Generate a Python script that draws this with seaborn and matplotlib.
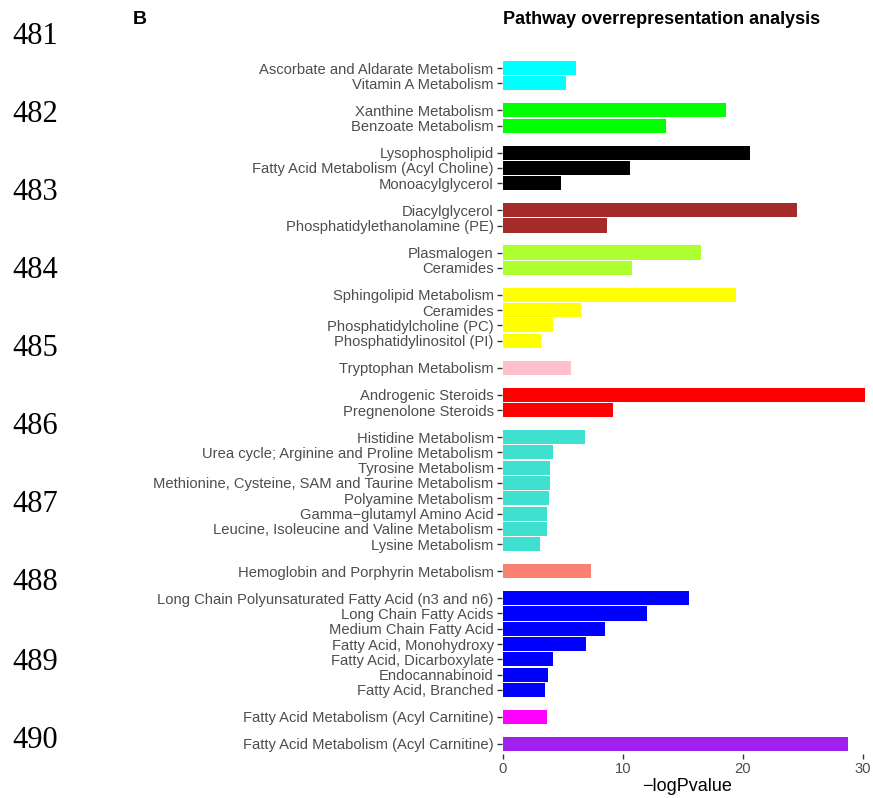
import matplotlib
matplotlib.use("Agg")
import matplotlib.pyplot as plt
import seaborn as sns
import pandas as pd
import numpy as np

labels = [
    "Ascorbate and Aldarate Metabolism", "Vitamin A Metabolism",
    "Xanthine Metabolism", "Benzoate Metabolism",
    "Lysophospholipid", "Fatty Acid Metabolism (Acyl Choline)", "Monoacylglycerol",
    "Diacylglycerol", "Phosphatidylethanolamine (PE)",
    "Plasmalogen", "Ceramides",
    "Sphingolipid Metabolism", "Ceramides", "Phosphatidylcholine (PC)", "Phosphatidylinositol (PI)",
    "Tryptophan Metabolism",
    "Androgenic Steroids", "Pregnenolone Steroids",
    "Histidine Metabolism", "Urea cycle; Arginine and Proline Metabolism", "Tyrosine Metabolism",
    "Methionine, Cysteine, SAM and Taurine Metabolism", "Polyamine Metabolism",
    "Gamma\u2212glutamyl Amino Acid", "Leucine, Isoleucine and Valine Metabolism", "Lysine Metabolism",
    "Hemoglobin and Porphyrin Metabolism",
    "Long Chain Polyunsaturated Fatty Acid (n3 and n6)", "Long Chain Fatty Acids",
    "Medium Chain Fatty Acid", "Fatty Acid, Monohydroxy", "Fatty Acid, Dicarboxylate",
    "Endocannabinoid", "Fatty Acid, Branched",
    "Fatty Acid Metabolism (Acyl Carnitine)",
    "Fatty Acid Metabolism (Acyl Carnitine)",
]
values = [
    6.1, 5.25,
    18.6, 13.6,
    20.6, 10.6, 4.8,
    24.5, 8.7,
    16.5, 10.75,
    19.4, 6.5, 4.2, 3.2,
    5.7,
    30.2, 9.2,
    6.8, 4.2, 3.9, 3.9, 3.8, 3.7, 3.7, 3.1,
    7.3,
    15.5, 12.0, 8.5, 6.9, 4.2, 3.75, 3.5,
    3.7,
    28.75,
]
group_sizes = [2, 2, 3, 2, 2, 4, 1, 2, 8, 1, 7, 1, 1]
group_colors = ["#00FFFF", "#00FF00", "#000000", "#A52A2A", "#ADFF2F", "#FFFF00",
                "#FFC0CB", "#FF0000", "#40E0D0", "#FA8072", "#0000FF", "#FF00FF", "#A020F0"]
line_numbers = ["481", "482", "483", "484", "485", "486", "487", "488", "489", "490"]

groups = np.repeat(np.arange(len(group_sizes)), group_sizes)
gap = 0.765
pos = np.arange(len(labels)) + groups * gap
df = pd.DataFrame({"label": labels, "value": values, "pos": pos,
                   "group": [f"g{g}" for g in groups]})
palette = {f"g{i}": c for i, c in enumerate(group_colors)}

sns.set_style("white")
plt.rcParams['font.family'] = ['Liberation Sans', 'DejaVu Sans']

fig = plt.figure(figsize=(8.73, 7.98), dpi=100)
W, H = 873, 798
ax_left, ax_right, ax_top, ax_bot = 502, 873, 58, 754
ax = fig.add_axes([ax_left / W, 1 - ax_bot / H, (ax_right - ax_left) / W, (ax_bot - ax_top) / H])

sns.barplot(data=df, x="value", y="pos", hue="group", palette=palette, orient="h",
            native_scale=True, width=0.92, dodge=False, legend=False, ax=ax, saturation=1,
            linewidth=0, edgecolor="none")

px_per_unit = 12.0
ax.set_xlim(-(503 - ax_left) / px_per_unit, (ax_right - 503) / px_per_unit)
ypx = (744 - 68) / pos[-1]
ax.set_ylim((ax_bot - 68) / ypx, -(68 - ax_top) / ypx)

ax.set_yticks(pos)
ax.set_yticklabels(labels)
ax.set_xticks([0, 10, 20, 30])
ax.set_xticklabels(["0", "10", "20", "30"])
for s in ax.spines.values():
    s.set_visible(False)
ax.tick_params(axis="both", colors="#333333", labelcolor="#4D4D4D", labelsize=10.6,
               length=3.5, width=1.0, direction="out", left=True, bottom=True, pad=2.5)
ax.set_ylabel("")
ax.set_xlabel("\u2212logPvalue", fontsize=13, color="black", labelpad=1)
ax.grid(False)

fig.text(662 / W, 1 - 19 / H, "Pathway overrepresentation analysis", ha="center", va="center",
         fontsize=13, fontweight="bold", color="black")
fig.text(140 / W, 1 - 19 / H, "B", ha="center", va="center", fontsize=14, fontweight="bold",
         color="black")

ln_y = [37, 114, 192, 270, 348, 427, 505, 583, 662, 741]
for t, y in zip(line_numbers, ln_y):
    fig.text(12 / W, 1 - y / H, t, ha="left", va="center", fontsize=22,
             family="Liberation Serif", color="black")

fig.savefig("out.png", dpi=100)
